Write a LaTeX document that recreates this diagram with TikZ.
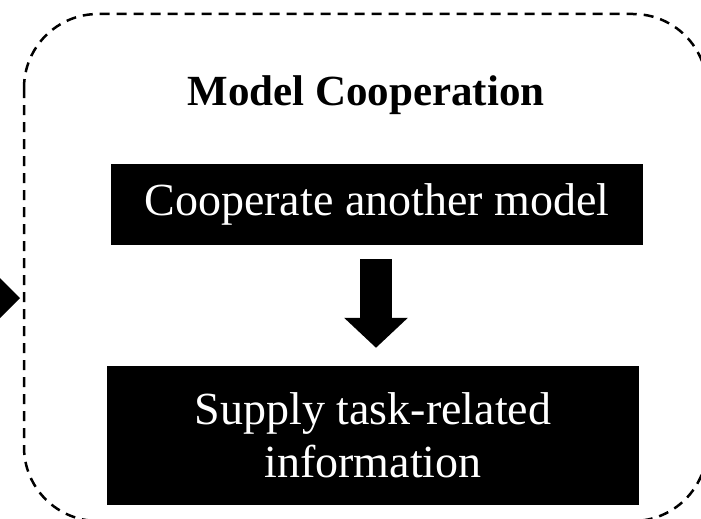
\documentclass[tikz,border=0pt]{standalone}
\usepackage{fontspec}
\setmainfont{Liberation Serif}
\usetikzlibrary{arrows.meta}

\tikzstyle{blackbox}=[fill=black,text=white,rectangle,minimum width=532pt,inner sep=0pt,align=center,font=\fontsize{46}{53}\selectfont]
\tikzstyle{title}=[font=\bfseries\fontsize{43}{50}\selectfont,inner sep=0pt,anchor=base]
\tikzstyle{frame}=[draw,line width=2.5pt,dash pattern=on 10pt off 7pt,rounded corners=74pt]
\tikzstyle{bigarrow}=[line width=32pt,-{Triangle[length=30pt,width=62pt]}]

\begin{document}
\begin{tikzpicture}[x=1pt,y=-1pt]
  \useasboundingbox (0,0) rectangle (701,519);
  \draw[frame] (24,14) rectangle (707,521);

  \node (t1)[title] at (366,105) {Model Cooperation};
  \node (c1)[blackbox,minimum height=81pt] at (377,204.5) {Cooperate another model};
  \node (s1)[blackbox,minimum height=139pt] at (373,435.5) {Supply task-related\\information};

    \draw[bigarrow] ([xshift=-1pt,yshift=-14pt]c1.south) -- ([xshift=3pt,yshift=18pt]s1.north);

    % tip of the arrow coming in from the left
    \coordinate (in) at (20,298);
    \fill (in) -- ++(-20,-20) -- ++(0,40) -- cycle;
\end{tikzpicture}
\end{document}
